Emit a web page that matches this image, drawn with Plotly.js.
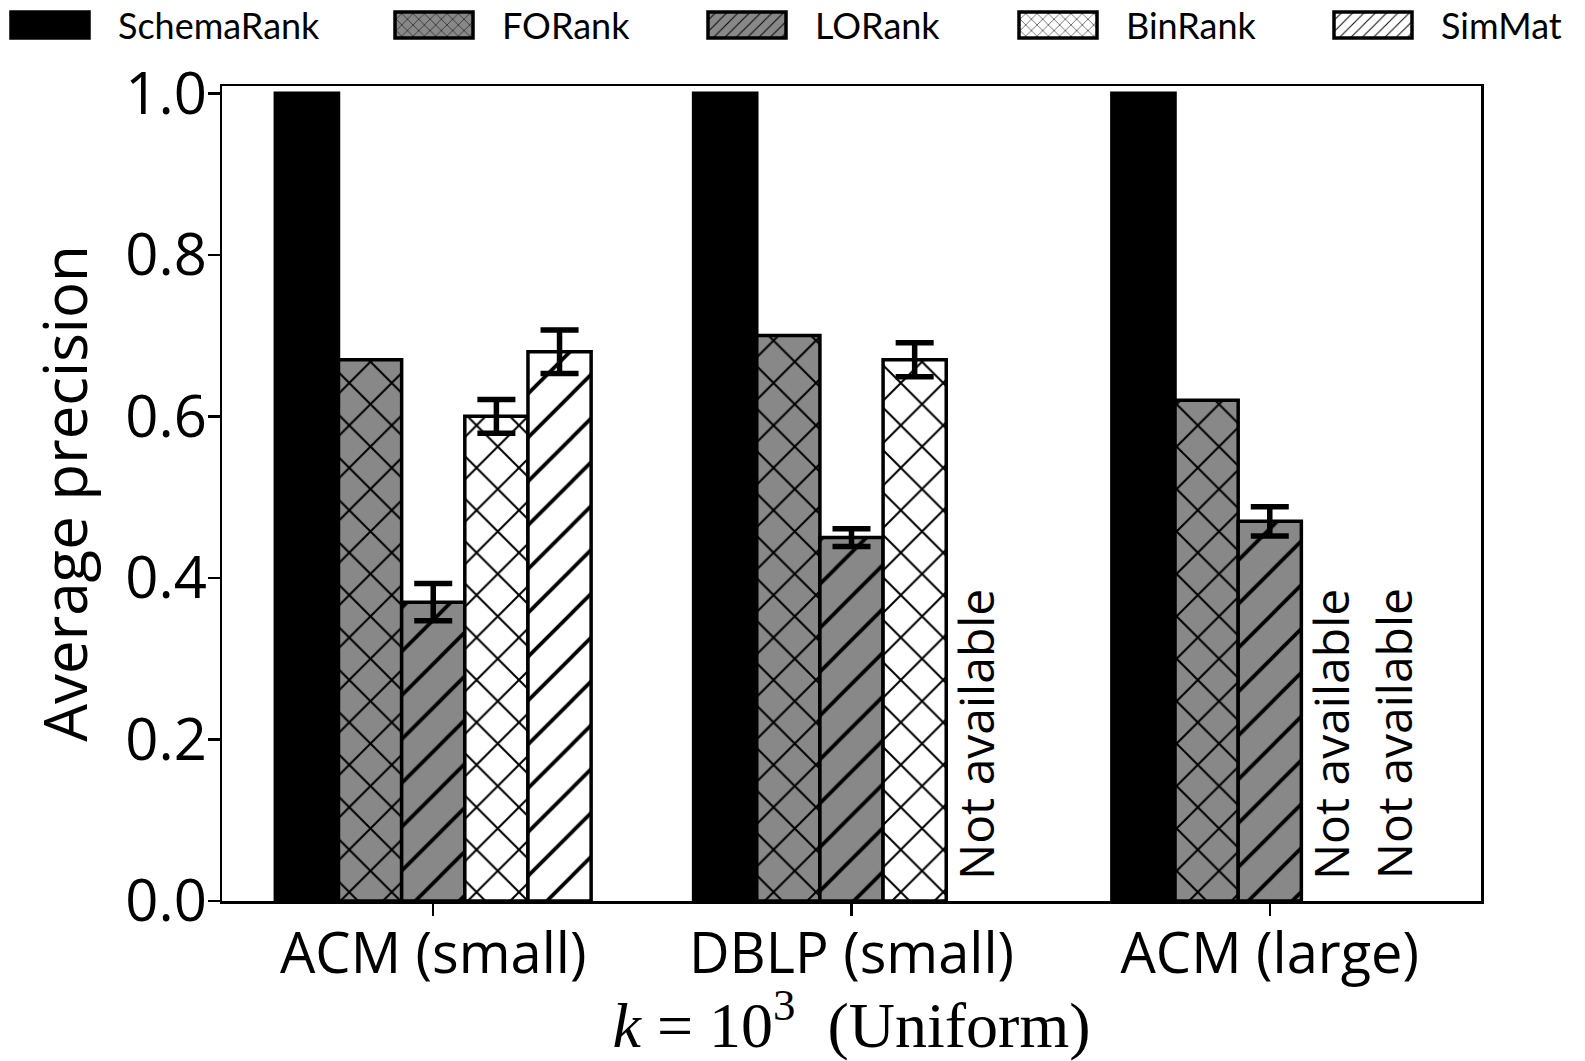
<!DOCTYPE html>
<html>
<head>
<meta charset="utf-8">
<script src="https://cdn.plot.ly/plotly-3.0.1.min.js"></script>
<style>html,body{margin:0;padding:0;background:#fff;}#chart{width:1585px;height:1061px;}</style>
</head>
<body>
<div id="chart"></div>
<script>
// ---- data ----
const categories = ['ACM (small)', 'DBLP (small)', 'ACM (large)'];
const seriesNames = ['SchemaRank', 'FORank', 'LORank', 'BinRank', 'SimMat'];
const schemaRank = [1.0, 1.0, 1.0];
const foRank = [0.67, 0.70, 0.62];
const loRank = [0.37, 0.45, 0.47];
const loRankErr = [0.023, 0.011, 0.018];
const binRank = [0.60, 0.67, null];
const binRankErr = [0.021, 0.021, null];
const simMat = [0.68, null, null];
const simMatErr = [0.027, null, null];
const notAvailableLabel = 'Not available';
const xTitle = '<i>k</i> = 10<sup>3</sup>  (Uniform)';
const yTitle = 'Average precision';
const yTickVals = [0, 0.2, 0.4, 0.6, 0.8, 1.0];
const yTickText = ['0.0', '0.2', '0.4', '0.6', '0.8', '1.0'];

// ---- layout / styling ----
const W = 1585, H = 1061;
const M = {l: 222, r: 104, t: 86, b: 160};
const plotW = W - M.l - M.r;
const plotH = H - M.t - M.b;
const legendTextStartPx = [120, 504, 817, 1128, 1443]; // where each legend label begins
const legendItemWidth = 100;
const legendCenterPx = 25;

const xIdx = categories.map((c, i) => i);
const bargap = 0.245;
const nSeries = seriesNames.length;
const barW = (1 - bargap) / nSeries;
const gray = '#888888';
const edge = {color: 'black', width: 3.5};
const errStyle = arr => ({type: 'data', array: arr, visible: true, color: 'black', thickness: 5.5, width: 19});

const series = [schemaRank, foRank, loRank, binRank, simMat];
const errs = [null, null, loRankErr, binRankErr, simMatErr];
const patterns = [
  null,
  {shape: 'x', fgcolor: 'black', bgcolor: gray, size: 30, solidity: 0.13},
  {shape: '/', fgcolor: 'black', bgcolor: gray, size: 31, solidity: 0.12},
  {shape: 'x', fgcolor: 'black', bgcolor: 'white', size: 30, solidity: 0.13},
  {shape: '/', fgcolor: 'black', bgcolor: 'white', size: 31, solidity: 0.12}
];
const fills = ['black', gray, gray, 'white', 'white'];
const legendIds = seriesNames.map((n, s) => s === 0 ? 'legend' : 'legend' + (s + 1));

const traces = series.map((vals, s) => {
  const t = {
    type: 'bar',
    name: seriesNames[s],
    x: xIdx,
    y: vals,
    legend: legendIds[s],
    marker: {color: fills[s], line: edge},
    hoverinfo: 'none'
  };
  if (patterns[s]) t.marker.pattern = patterns[s];
  if (errs[s]) t.error_y = errStyle(errs[s]);
  return t;
});

// "Not available" labels at missing slots
const annotations = [];
series.forEach((vals, s) => {
  vals.forEach((v, i) => {
    if (v === null) {
      annotations.push({
        x: i + (s - (nSeries - 1) / 2) * barW,
        y: 0.024,
        xref: 'x', yref: 'y',
        text: notAvailableLabel,
        showarrow: false,
        textangle: -90,
        xshift: -3,
        xanchor: 'center', yanchor: 'bottom',
        font: {family: 'Open Sans, sans-serif', size: 48, color: 'black'}
      });
    }
  });
});

const axisCommon = {
  showline: true, linecolor: 'black', linewidth: 2.5, mirror: true,
  ticks: 'outside', ticklen: 12, tickwidth: 2.5, tickcolor: 'black',
  showgrid: false, zeroline: false, automargin: false
};

const layout = {
  width: W, height: H,
  margin: Object.assign({autoexpand: false}, M),
  paper_bgcolor: 'white', plot_bgcolor: 'white',
  barmode: 'group', bargap: bargap, bargroupgap: 0,
  showlegend: true,
  xaxis: Object.assign({}, axisCommon, {
    range: [-0.505, 2.505],
    tickvals: xIdx, ticktext: categories,
    ticklabelstandoff: -10,
    tickfont: {family: 'Open Sans, sans-serif', size: 56, color: 'black'},
    title: {text: xTitle, font: {family: 'Liberation Serif, serif', size: 64, color: 'black'}, standoff: 14}
  }),
  yaxis: Object.assign({}, axisCommon, {
    range: [0, 1.009],
    tickvals: yTickVals, ticktext: yTickText,
    ticklabelstandoff: -11,
    tickfont: {family: 'Open Sans, sans-serif', size: 58, color: 'black'},
    title: {text: yTitle, font: {family: 'Open Sans, sans-serif', size: 60, color: 'black'}, standoff: 19}
  }),
  annotations: annotations
};

legendIds.forEach((id, s) => {
  layout[id] = {
    orientation: 'h',
    x: (legendTextStartPx[s] - (legendItemWidth + 12) - M.l) / plotW,
    xanchor: 'left',
    y: (H - M.b - legendCenterPx) / plotH,
    yanchor: 'middle',
    font: {family: 'Lato, sans-serif', size: 36, color: 'black'},
    itemwidth: legendItemWidth,
    bgcolor: 'rgba(0,0,0,0)'
  };
});

Plotly.newPlot('chart', traces, layout, {displayModeBar: false, staticPlot: true}).then(() => {
  // widen legend swatches to match the reference's wide patches
  document.querySelectorAll('.legendpoints path').forEach(p => {
    p.setAttribute('d', 'M26,13H-52V-13H26Z');
  });
});
</script>
</body>
</html>
